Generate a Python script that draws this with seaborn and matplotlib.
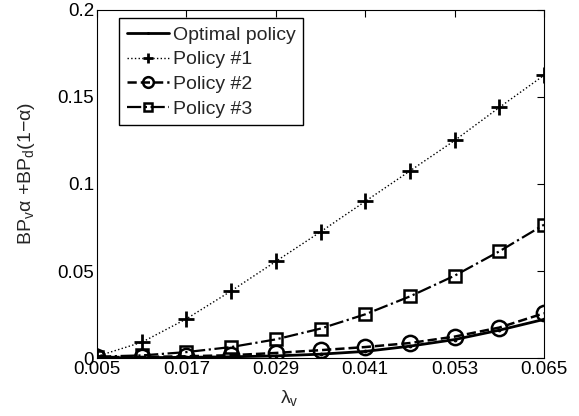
import numpy as np
import pandas as pd
import matplotlib
matplotlib.use("Agg")
import matplotlib.pyplot as plt
import seaborn as sns

# Arrival rate of voice calls
lam_v = [0.005, 0.011, 0.017, 0.023, 0.029, 0.035, 0.041, 0.047, 0.053, 0.059, 0.065]

# Weighted blocking probability for each admission policy
optimal = [0.0000, 0.0002, 0.0004, 0.0007, 0.0012, 0.0022, 0.0038, 0.0068, 0.0106, 0.0160, 0.0222]
policy1 = [0.0010, 0.0090, 0.0225, 0.0385, 0.0555, 0.0725, 0.0900, 0.1075, 0.1250, 0.1440, 0.1625]
policy2 = [0.0005, 0.0006, 0.0010, 0.0016, 0.0029, 0.0045, 0.0063, 0.0086, 0.0123, 0.0175, 0.0257]
policy3 = [0.0008, 0.0015, 0.0034, 0.0063, 0.0107, 0.0169, 0.0251, 0.0354, 0.0473, 0.0613, 0.0766]

x_ticks = [0.005, 0.017, 0.029, 0.041, 0.053, 0.065]
y_ticks = [0, 0.05, 0.1, 0.15, 0.2]
y_tick_labels = ["0", "0.05", "0.1", "0.15", "0.2"]

sns.set_style("white")
plt.rcParams["font.family"] = ["Liberation Sans", "DejaVu Sans"]
plt.rcParams["mathtext.fontset"] = "custom"
plt.rcParams["mathtext.rm"] = "Liberation Sans"
plt.rcParams["mathtext.it"] = "Liberation Sans:italic"
plt.rcParams["mathtext.default"] = "regular"

fig = plt.figure(figsize=(5.79, 4.16), dpi=100)
ax = fig.add_axes([0.1675, 0.1394, 0.7721, 0.8366])

series = [
    ("Optimal policy", optimal, dict(linestyle="-", marker=".", markersize=4, linewidth=2.0)),
    ("Policy #1", policy1, dict(linestyle=":", marker="+", markersize=11, markeredgewidth=2.0, linewidth=1.0)),
    ("Policy #2", policy2, dict(linestyle="--", marker="o", markersize=11, markeredgewidth=1.8,
                                markerfacecolor="none", linewidth=1.8, dashes=(4, 2.5))),
    ("Policy #3", policy3, dict(linestyle="-.", marker="s", markersize=9, markeredgewidth=1.8,
                                markerfacecolor="none", linewidth=1.6, dashes=(4.5, 2.5, 1, 2.5))),
]

for name, vals, kw in series:
    df = pd.DataFrame({"lam": lam_v, "bp": vals})
    sns.lineplot(data=df, x="lam", y="bp", ax=ax, color="k", markeredgecolor="k",
                 label=name, **kw)

ax.set_xlim(0.005, 0.065)
ax.set_ylim(0, 0.2)
ax.set_xticks(x_ticks)
ax.set_xticklabels([f"{t:.3f}" for t in x_ticks])
ax.set_yticks(y_ticks)
ax.set_yticklabels(y_tick_labels)
ax.tick_params(direction="in", top=True, right=True, length=5, width=0.8,
               labelsize=13.5, colors="k", pad=2)
for s in ax.spines.values():
    s.set_color("k")
    s.set_linewidth(0.8)

ax.set_xlabel(r"λ$_{v}$", fontsize=14, labelpad=0)
ax.xaxis.set_label_coords(0.43, -0.085)
ax.set_ylabel(r"BP$_{v}$α +BP$_{d}$(1−α)", fontsize=14)
ax.yaxis.set_label_coords(-0.135, 0.53)

leg = ax.legend(loc="upper left", bbox_to_anchor=(0.05, 0.976), fontsize=14,
                frameon=True, fancybox=False, framealpha=1, edgecolor="k",
                borderpad=0.4, labelspacing=0.36, handlelength=2.15,
                handletextpad=0.2, borderaxespad=0, markerscale=0.7)
leg.get_frame().set_linewidth(1.0)

fig.savefig("out.png", dpi=100)
